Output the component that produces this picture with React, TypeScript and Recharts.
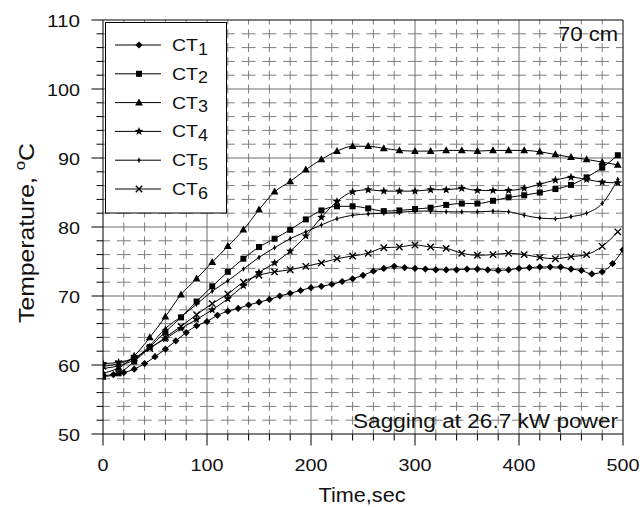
import { LineChart, Line, XAxis, YAxis, ReferenceLine } from "recharts";

// sample times (sec)
const times10 = [
  0, 10, 20, 30, 40, 50, 60, 70, 80, 90, 100, 110, 120, 130, 140, 150, 160,
  170, 180, 190, 200, 210, 220, 230, 240, 250, 260, 270, 280, 290, 300, 310,
  320, 330, 340, 350, 360, 370, 380, 390, 400, 410, 420, 430, 440, 450, 460,
  470, 480, 490, 500
];
const times15 = [
  0, 15, 30, 45, 60, 75, 90, 105, 120, 135, 150, 165, 180, 195, 210, 225, 240,
  255, 270, 285, 300, 315, 330, 345, 360, 375, 390, 405, 420, 435, 450, 465,
  480, 495
];

// temperatures (oC)
const ct1Temp = [
  58.5, 58.6, 58.9, 59.4, 60.2, 61.2, 62.3, 63.5, 64.7, 65.7, 66.3, 67.2, 67.8,
  68.2, 68.7, 69.1, 69.5, 70.0, 70.4, 70.8, 71.2, 71.4, 71.7, 72.1, 72.5, 73.0,
  73.6, 74.0, 74.3, 74.1, 74.0, 73.9, 73.8, 73.8, 73.8, 73.9, 73.9, 73.8, 73.7,
  73.8, 74.0, 74.1, 74.2, 74.2, 74.2, 73.9, 73.7, 73.2, 73.5, 74.7, 76.7
];
const ct2Temp = [
  58.3, 58.8, 60.5, 62.6, 64.8, 66.9, 69.2, 71.4, 73.5, 75.4, 77.1, 78.3, 79.6,
  81.1, 82.4, 83.0, 83.0, 82.7, 82.3, 82.4, 82.6, 82.8, 83.2, 83.4, 83.4, 83.8,
  84.3, 84.6, 85.0, 85.5, 86.1, 87.2, 88.6, 90.4
];
const ct3Temp = [
  58.8, 59.6, 61.3, 64.0, 67.0, 70.2, 72.5, 74.9, 77.2, 79.6, 82.5, 85.1, 86.6,
  88.3, 89.8, 91.0, 91.7, 91.7, 91.4, 91.1, 91.0, 91.0, 91.1, 91.1, 91.0, 91.1,
  91.1, 91.1, 90.9, 90.5, 90.1, 89.8, 89.4, 89.0
];
const ct4Temp = [
  60.2, 60.4, 61.0, 62.5, 63.8, 65.3, 66.6, 68.0, 69.6, 71.5, 73.4, 74.8, 76.5,
  78.7, 81.4, 83.7, 85.1, 85.4, 85.2, 85.2, 85.2, 85.4, 85.4, 85.6, 85.3, 85.3,
  85.3, 85.6, 86.2, 86.8, 87.2, 86.9, 86.5, 86.4
];
const ct5Temp = [
  59.5, 59.9, 60.8, 62.8, 65.3, 67.0, 68.8, 70.7, 72.2, 73.9, 75.6, 77.0, 78.3,
  79.3, 80.3, 81.2, 81.7, 81.9, 82.0, 82.1, 82.3, 82.3, 82.2, 82.2, 82.2, 82.3,
  82.2, 81.7, 81.3, 81.2, 81.5, 82.0, 83.4, 86.9
];
const ct6Temp = [
  59.8, 60.2, 61.0, 62.4, 64.0, 65.6, 67.3, 68.9, 70.3, 72.0, 73.0, 73.5, 73.8,
  74.3, 74.8, 75.4, 75.8, 76.2, 77.0, 77.1, 77.4, 77.1, 76.9, 76.2, 75.9, 76.0,
  76.2, 76.0, 75.6, 75.4, 75.7, 76.0, 77.2, 79.3
];

const legendSubs = ["1", "2", "3", "4", "5", "6"];

const xTicks = [
  0, 20, 40, 60, 80, 100, 120, 140, 160, 180, 200, 220, 240, 260, 280, 300,
  320, 340, 360, 380, 400, 420, 440, 460, 480, 500
];
const yTicks = [
  50, 52, 54, 56, 58, 60, 62, 64, 66, 68, 70, 72, 74, 76, 78, 80, 82, 84, 86,
  88, 90, 92, 94, 96, 98, 100, 102, 104, 106, 108, 110
];
const xMajorGrid = [100, 200, 300, 400];
const xMinorGrid = [
  20, 40, 60, 80, 120, 140, 160, 180, 220, 240, 260, 280, 320, 340, 360, 380,
  420, 440, 460, 480
];
const yMajorGrid = [60, 70, 80, 90, 100];
const yMinorGrid = [
  52, 54, 56, 58, 62, 64, 66, 68, 72, 74, 76, 78, 82, 84, 86, 88, 92, 94, 96,
  98, 102, 104, 106, 108
];

type Pt = { t: number; temp: number };
const toPoints = (times: number[], temps: number[]): Pt[] =>
  temps.map((temp, i) => ({ t: times[i], temp }));

type Shape = "diamond" | "square" | "triangle" | "star" | "dot" | "cross";

const series: { key: string; data: Pt[]; shape: Shape }[] = [
  { key: "CT1", data: toPoints(times10, ct1Temp), shape: "diamond" },
  { key: "CT2", data: toPoints(times15, ct2Temp), shape: "square" },
  { key: "CT3", data: toPoints(times15, ct3Temp), shape: "triangle" },
  { key: "CT4", data: toPoints(times15, ct4Temp), shape: "star" },
  { key: "CT5", data: toPoints(times15, ct5Temp), shape: "dot" },
  { key: "CT6", data: toPoints(times15, ct6Temp), shape: "cross" }
];

const font = "'Liberation Sans', Arial, sans-serif";
const gridMinor = "#7d7d7d";
const gridMajor = "#6c6c6c";

const starPoints = (cx: number, cy: number, R: number, r: number) => {
  const pts: string[] = [];
  for (let i = 0; i < 10; i++) {
    const a = -Math.PI / 2 + (i * Math.PI) / 5;
    const rad = i % 2 === 0 ? R : r;
    pts.push(`${cx + rad * Math.cos(a)},${cy + rad * Math.sin(a)}`);
  }
  return pts.join(" ");
};

function Marker({ cx, cy, shape }: { cx?: number; cy?: number; shape: Shape }) {
  if (cx == null || cy == null) return null;
  switch (shape) {
    case "diamond":
      return (
        <polygon
          points={`${cx},${cy - 3.6} ${cx + 3.6},${cy} ${cx},${cy + 3.6} ${cx - 3.6},${cy}`}
          fill="#000"
        />
      );
    case "square":
      return <rect x={cx - 3} y={cy - 3} width={6} height={6} fill="#000" />;
    case "triangle":
      return (
        <polygon
          points={`${cx},${cy - 4.2} ${cx + 3.9},${cy + 2.8} ${cx - 3.9},${cy + 2.8}`}
          fill="#000"
        />
      );
    case "star":
      return <polygon points={starPoints(cx, cy, 4.5, 1.9)} fill="#000" />;
    case "dot":
      return (
        <g>
          <line x1={cx} x2={cx} y1={cy - 2.5} y2={cy + 2.5} stroke="#000" />
          <polygon
            points={`${cx},${cy - 1.8} ${cx + 1.8},${cy} ${cx},${cy + 1.8} ${cx - 1.8},${cy}`}
            fill="#000"
          />
        </g>
      );
    case "cross":
      return (
        <g stroke="#000" strokeWidth={1.4}>
          <line x1={cx - 3.2} y1={cy - 3.2} x2={cx + 3.2} y2={cy + 3.2} />
          <line x1={cx - 3.2} y1={cy + 3.2} x2={cx + 3.2} y2={cy - 3.2} />
        </g>
      );
  }
  return null;
}

const YTick = (props: any) => {
  const { x, y, payload } = props;
  const v = payload.value as number;
  const major = v % 10 === 0;
  const label = String(v);
  return (
    <g>
      <line x1={x - (major ? 11.5 : 6.5)} x2={x} y1={y} y2={y} stroke="#000" />
      {major && (
        <text
          x={x - 23}
          y={y + 6.5}
          textAnchor="end"
          fontSize={17}
          fontFamily={font}
          fill="#111"
          textLength={label.length * 11}
          lengthAdjust="spacingAndGlyphs"
        >
          {label}
        </text>
      )}
    </g>
  );
};

const XTick = (props: any) => {
  const { x, y, payload } = props;
  const v = payload.value as number;
  const major = v % 100 === 0;
  const label = String(v);
  return (
    <g>
      <line x1={x} x2={x} y1={y} y2={y + (major ? 11.5 : 6.5)} stroke="#000" />
      {major && (
        <text
          x={x}
          y={y + 37}
          textAnchor="middle"
          fontSize={17}
          fontFamily={font}
          fill="#111"
          textLength={label.length * 11}
          lengthAdjust="spacingAndGlyphs"
        >
          {label}
        </text>
      )}
    </g>
  );
};

function Overlay() {
  return (
    <svg
      width={640}
      height={507}
      style={{ position: "absolute", left: 0, top: 0, pointerEvents: "none" }}
      fontFamily={font}
    >
      {/* legend box */}
      <rect x={105.5} y={22.5} width={121} height={190.5} fill="#fff" stroke="#000" />
      {series.map((s, i) => {
        const rowY = 45 + i * 28.8;
        return (
          <g key={s.key}>
            <line x1={115} x2={161} y1={rowY} y2={rowY} stroke="#000" />
            <Marker cx={139} cy={rowY} shape={s.shape} />
            <text x={172} y={rowY + 6} fontSize={17} fill="#111" textLength={26} lengthAdjust="spacingAndGlyphs">
              CT
            </text>
            <text x={198} y={rowY + 9.5} fontSize={17} fill="#111" textLength={10} lengthAdjust="spacingAndGlyphs">
              {legendSubs[i]}
            </text>
          </g>
        );
      })}
      <text x={618} y={41} textAnchor="end" fontSize={21} fill="#111" textLength={60} lengthAdjust="spacingAndGlyphs">
        70 cm
      </text>
      <text x={353} y={428} fontSize={20} fill="#111" textLength={265} lengthAdjust="spacingAndGlyphs">
        Sagging at 26.7 kW power
      </text>
      <text x={362} y={502} textAnchor="middle" fontSize={20} fill="#111" textLength={87} lengthAdjust="spacingAndGlyphs">
        Time,sec
      </text>
      <text
        transform="translate(34,233) rotate(-90)"
        textAnchor="middle"
        fontSize={22}
        fill="#111"
        textLength={180}
        lengthAdjust="spacingAndGlyphs"
      >
        Temperature,{" "}
        <tspan fontSize={15} dy={-9}>
          o
        </tspan>
        <tspan dy={9}>C</tspan>
      </text>
    </svg>
  );
}

export default function App() {
  return (
    <div style={{ position: "absolute", left: 0, top: 0, width: 640, height: 507, background: "#fff" }}>
      <LineChart width={640} height={507} margin={{ top: 20, right: 17, left: 43, bottom: 23 }}>
        <XAxis
          type="number"
          dataKey="t"
          domain={[0, 500]}
          ticks={xTicks}
          interval={0}
          allowDataOverflow
          tick={<XTick />}
          tickLine={false}
          tickSize={0}
          tickMargin={0}
          height={50}
          axisLine={{ stroke: "#000" }}
        />
        <YAxis
          type="number"
          dataKey="temp"
          domain={[50, 110]}
          ticks={yTicks}
          interval={0}
          allowDataOverflow
          tick={<YTick />}
          tickLine={false}
          tickSize={0}
          tickMargin={0}
          width={60}
          axisLine={{ stroke: "#000" }}
        />
        {yMinorGrid.map((v) => (
          <ReferenceLine key={`ym${v}`} y={v} stroke={gridMinor} strokeDasharray="14 6.8" strokeDashoffset={7} />
        ))}
        {xMinorGrid.map((v) => (
          <ReferenceLine key={`xm${v}`} x={v} stroke={gridMinor} strokeDasharray="9 4.8" strokeDashoffset={4.5} />
        ))}
        {yMajorGrid.map((v) => (
          <ReferenceLine key={`yM${v}`} y={v} stroke={gridMajor} />
        ))}
        {xMajorGrid.map((v) => (
          <ReferenceLine key={`xM${v}`} x={v} stroke={gridMajor} />
        ))}
        <ReferenceLine y={110} stroke="#000" />
        <ReferenceLine x={500} stroke="#000" />
        {series.map((s) => (
          <Line
            key={s.key}
            data={s.data}
            dataKey="temp"
            name={s.key}
            type="monotone"
            stroke="#000"
            strokeWidth={1}
            isAnimationActive={false}
            activeDot={false}
            dot={(p: any) => (
              <Marker key={`${s.key}-${p.index}`} cx={p.cx} cy={p.cy} shape={s.shape} />
            )}
          />
        ))}
      </LineChart>
      <Overlay />
    </div>
  );
}
